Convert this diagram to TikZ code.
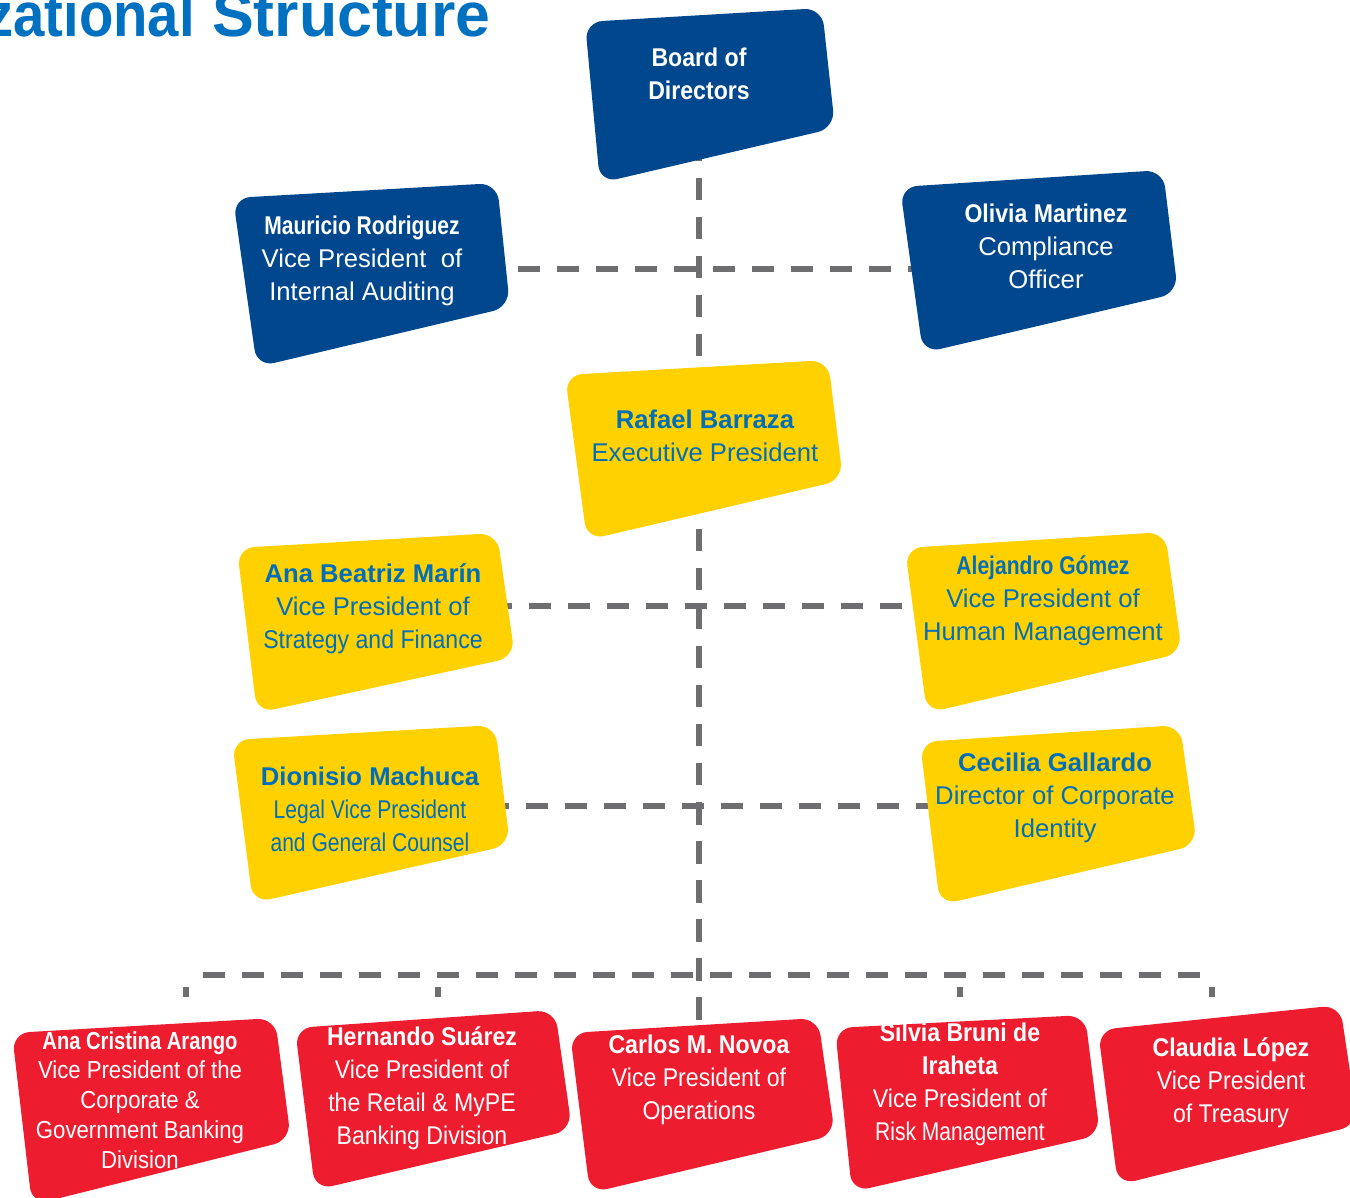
\documentclass[tikz,border=0pt]{standalone}
\usepackage{fontspec}
\setmainfont{Liberation Sans}
\newfontfamily\condfont[FakeStretch=0.9]{Liberation Sans}
\newfontfamily\tightfont[FakeStretch=0.82]{Liberation Sans}

\definecolor{boardblue}{RGB}{0,71,141}
\definecolor{execyellow}{RGB}{255,209,0}
\definecolor{unitred}{RGB}{237,28,46}
\definecolor{textblue}{RGB}{0,110,185}
\definecolor{titleblue}{RGB}{0,112,192}
\definecolor{linegray}{RGB}{110,110,112}

\pgfdeclarelayer{links}
\pgfdeclarelayer{tiles}
\pgfsetlayers{links,tiles,main}

\begin{document}
\begin{tikzpicture}[bluebox/.style = {align=center, text=white, inner sep=0pt},
                    yellowbox/.style = {align=center, text=textblue, inner sep=0pt},
                    redbox/.style = {align=center, text=white, inner sep=0pt,
                                     font=\condfont\fontsize{7.3}{9.4}\selectfont},
                    tile/.style = {rounded corners=5pt},
                    link/.style = {draw=linegray, line width=1.6pt,
                                   dash pattern=on 6.3pt off 4.8pt},
                    font=\fontsize{7.3}{9.4}\selectfont]
  \useasboundingbox (0, 0) rectangle (13.5, -11.98);

  % Title, cut by the page edge.
  \node at (4.91, -0.36) [anchor=base east, inner sep=0pt, text=titleblue,
                          font=\fontsize{17.8}{20}\selectfont\bfseries, name=Title] {{\condfont Organizational} Structure};

  % Board and offices reporting to it.
  \node at (6.99, -0.735) [bluebox, font=\condfont\fontsize{7.3}{9.4}\selectfont\bfseries, name=Board] {Board of\\Directors};
  \node at (3.62, -2.61) [bluebox, name=Auditing] {{\tightfont\bfseries Mauricio Rodriguez}\\Vice President\ \ of\\Internal Auditing};
  \node at (10.46, -2.46) [bluebox, name=Compliance] {{\condfont\bfseries Olivia Martinez}\\Compliance\\Officer};

  % Executive level.
  \node at (7.05, -4.36) [yellowbox, name=Executive] {{\bfseries Rafael Barraza}\\Executive President};
  \node at (3.73, -6.09) [yellowbox, name=Strategy] {{\bfseries Ana Beatriz Marín}\\Vice President of\\{\condfont Strategy and Finance}};
  \node at (10.43, -6.01) [yellowbox, name=HumanMgmt] {{\tightfont\bfseries Alejandro Gómez}\\Vice President of\\Human Management};
  \node at (3.70, -8.09) [yellowbox, name=Legal] {{\bfseries Dionisio Machuca}\\{\tightfont Legal Vice President}\\{\tightfont and General Counsel}};
  \node at (10.55, -7.98) [yellowbox, name=Identity] {{\bfseries Cecilia Gallardo}\\Director of Corporate\\Identity};

  % Business units.
  \node at (1.40, -11.00) [redbox, font=\condfont\fontsize{7}{8.5}\selectfont, name=Corporate] {{\tightfont\bfseries Ana Cristina Arango}\\Vice President of the\\Corporate \&\\Government Banking\\Division};
  \node at (4.22, -10.88) [redbox, name=Retail] {{\bfseries Hernando Suárez}\\Vice President of\\the Retail \& MyPE\\Banking Division};
  \node at (6.99, -10.80) [redbox, name=Operations] {{\bfseries Carlos M. Novoa}\\Vice President of\\Operations};
  \node at (9.60, -10.84) [redbox, name=Risk] {{\bfseries Silvia Bruni de}\\{\bfseries Iraheta}\\Vice President of\\{\tightfont Risk Management}};
  \node at (12.31, -10.83) [redbox, name=Treasury] {{\bfseries Claudia López}\\Vice President\\of Treasury};

  % Tiles behind the texts.
  \begin{pgfonlayer}{tiles}
    \fill [tile, boardblue] (5.85, -0.22) -- (8.22, -0.08) -- (8.35, -1.28) -- (6.00, -1.83) -- cycle;
    \fill [tile, boardblue] (2.33, -1.98) -- (4.97, -1.83) -- (5.10, -3.07) -- (2.57, -3.67) -- cycle;
    \fill [tile, boardblue] (9.00, -1.87) -- (11.63, -1.70) -- (11.78, -2.93) -- (9.23, -3.53) -- cycle;

    \fill [tile, execyellow] (5.65, -3.75) -- (8.28, -3.60) -- (8.43, -4.80) -- (5.87, -5.40) -- cycle;
    \fill [tile, execyellow] (2.37, -5.48) -- (4.97, -5.33) -- (5.15, -6.57) -- (2.57, -7.13) -- cycle;
    \fill [tile, execyellow] (9.05, -5.48) -- (11.65, -5.32) -- (11.82, -6.53) -- (9.27, -7.13) -- cycle;
    \fill [tile, execyellow] (2.32, -7.40) -- (4.95, -7.25) -- (5.10, -8.45) -- (2.53, -9.03) -- cycle;
    \fill [tile, execyellow] (9.20, -7.42) -- (11.80, -7.25) -- (11.97, -8.45) -- (9.40, -9.05) -- cycle;

    \fill [tile, unitred] (0.12, -10.33) -- (2.75, -10.18) -- (2.91, -11.40) -- (0.32, -12.05) -- cycle;
    \fill [tile, unitred] (2.95, -10.28) -- (5.55, -10.10) -- (5.72, -11.30) -- (3.15, -11.90) -- cycle;
    \fill [tile, unitred] (5.70, -10.33) -- (8.18, -10.18) -- (8.35, -11.35) -- (5.90, -11.93) -- cycle;
    \fill [tile, unitred] (8.35, -10.28) -- (10.85, -10.15) -- (11.00, -11.35) -- (8.52, -11.92) -- cycle;
    \fill [tile, unitred] (10.98, -10.30) -- (13.40, -10.05) -- (13.58, -11.25) -- (11.18, -11.85) -- cycle;
  \end{pgfonlayer}

  % Reporting lines.
  \begin{pgfonlayer}{links}
    \coordinate (AuditRow) at (6.99, -2.69);
    \coordinate (StrategyRow) at (6.99, -6.06);
    \coordinate (LegalRow) at (6.99, -8.06);
    \coordinate (Bus) at (6.99, -9.75);
    \coordinate (CorporateDrop) at (1.86, -9.97);
    \coordinate (RetailDrop) at (4.38, -9.97);
    \coordinate (RiskDrop) at (9.60, -9.97);
    \coordinate (TreasuryDrop) at (12.12, -9.97);

    \draw [link] (Board) -- (Operations);
    \draw [link] (Auditing |- AuditRow) -- (Compliance |- AuditRow);
    \draw [link] (Strategy |- StrategyRow) -- (HumanMgmt |- StrategyRow);
    \draw [link] (Legal |- LegalRow) -- (Identity |- LegalRow);
    \draw [link, dash phase=6.3pt] (CorporateDrop |- Bus) -- (TreasuryDrop |- Bus);
    \foreach \drop in {CorporateDrop, RetailDrop, RiskDrop, TreasuryDrop}
      \draw [link, dash phase=7.7pt] (\drop |- Bus) -- (\drop);
  \end{pgfonlayer}
\end{tikzpicture}
\end{document}
